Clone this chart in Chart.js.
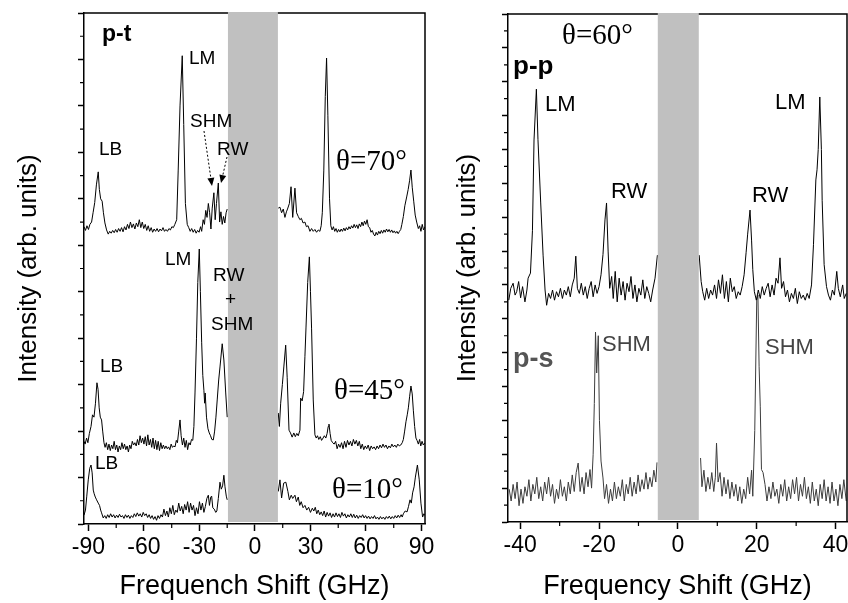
<!DOCTYPE html>
<html>
<head>
<meta charset="utf-8">
<script src="https://cdn.jsdelivr.net/npm/chart.js@4.4.1/dist/chart.umd.min.js"></script>
<style>
  html, body { margin: 0; padding: 0; background: #fff; }
  #wrap { position: relative; width: 848px; height: 603px; }
  #wrap canvas { position: absolute; top: 0; }
</style>
</head>
<body>
<div id="wrap">
  <canvas id="left" width="440" height="603" style="left:0"></canvas>
  <canvas id="right" width="408" height="603" style="left:440px"></canvas>
</div>
<script>
// ---- left panel (p-t), frequency in GHz, intensity in arb. units ----
const xTicksL = [-90, -60, -30, 0, 30, 60, 90];
const xMinorL = [-75, -45, -15, 15, 45, 75];
const yTicksL = [0, 1, 2, 3, 4, 5, 6, 7, 8, 9, 10, 11];
const bandL = [-14.6, 12.4];

const t70Left = [[-92.4,6.40],[-91.6,6.32],[-90.8,6.42],[-90,6.34],[-89.2,6.45],[-88.3,6.50],[-87.5,6.70],[-86.6,6.92],[-85.7,7.30],[-84.7,7.58],[-84.1,7.20],[-83.4,7.00],[-82.6,6.95],[-81.9,6.70],[-81.1,6.48],[-80.2,6.33],[-79.3,6.24],[-78.5,6.30],[-77.7,6.26],[-76.9,6.32],[-76.1,6.27],[-75.3,6.34],[-74.5,6.28],[-73.7,6.36],[-72.9,6.30],[-72.1,6.38],[-71.3,6.29],[-70.5,6.40],[-69.7,6.33],[-68.9,6.45],[-68.1,6.36],[-67.3,6.50],[-66.5,6.38],[-65.7,6.46],[-64.9,6.35],[-64.1,6.48],[-63.3,6.40],[-62.5,6.55],[-61.7,6.38],[-60.9,6.50],[-60.1,6.36],[-59.3,6.45],[-58.5,6.32],[-57.7,6.42],[-56.9,6.30],[-56.1,6.38],[-55.3,6.28],[-54.5,6.35],[-53.7,6.30],[-52.9,6.36],[-52.1,6.29],[-51.3,6.35],[-50.5,6.31],[-49.7,6.38],[-48.9,6.30],[-48.1,6.34],[-47.3,6.30],[-46.5,6.36],[-45.7,6.33],[-44.9,6.40],[-44.1,6.38],[-43.3,6.45],[-42.3,6.55],[-41.5,7.60],[-40.5,9.00],[-39.3,10.08],[-38.5,8.60],[-37.6,6.90],[-36.6,6.45],[-35.8,6.38],[-35,6.30],[-34.2,6.36],[-33.4,6.28],[-32.6,6.34],[-31.8,6.26],[-31,6.32],[-30.2,6.28],[-29.4,6.40],[-28.8,6.30],[-28,6.55],[-27.3,6.45],[-26.6,6.75],[-25.9,6.60],[-25.2,6.90],[-24.5,6.70],[-23.8,6.35],[-23.1,6.80],[-22.2,7.13],[-21.5,6.55],[-20.8,6.90],[-19.8,7.34],[-19.1,6.50],[-18.4,6.72],[-17.7,6.45],[-17,6.62],[-16.3,6.48],[-15.6,6.70],[-15,6.78]];
const t70Right = [[12.6,6.80],[13.5,6.82],[14.4,6.70],[15.3,6.78],[16.2,6.60],[17.0,6.72],[17.6,6.78],[18.6,6.90],[19.5,7.26],[20.4,6.60],[21.6,7.23],[22.5,6.70],[23.4,6.62],[24.3,6.55],[25.1,6.58],[26.0,6.48],[27.0,6.50],[27.8,6.40],[28.7,6.42],[29.7,6.30],[30.6,6.36],[31.5,6.30],[32.4,6.34],[33.3,6.28],[34.2,6.33],[35.1,6.30],[35.8,6.42],[36.4,6.70],[37.2,7.60],[38.0,9.20],[38.7,10.03],[39.4,8.80],[40.3,7.00],[41.0,6.42],[41.7,6.33],[42.4,6.40],[43.1,6.30],[43.8,6.36],[44.5,6.28],[45.2,6.34],[45.9,6.29],[46.6,6.35],[47.3,6.30],[48.0,6.37],[48.7,6.31],[49.4,6.38],[50.1,6.33],[50.8,6.40],[51.5,6.35],[52.2,6.42],[52.9,6.37],[53.6,6.45],[54.3,6.38],[55.0,6.44],[55.7,6.36],[56.4,6.46],[57.1,6.40],[57.8,6.50],[58.5,6.42],[59.2,6.52],[59.9,6.45],[60.6,6.55],[61.3,6.40],[62.0,6.38],[62.7,6.28],[63.4,6.32],[64.1,6.24],[64.8,6.20],[65.5,6.28],[66.2,6.22],[66.9,6.30],[67.6,6.25],[68.3,6.32],[69.0,6.26],[69.7,6.33],[70.4,6.28],[71.1,6.35],[71.8,6.29],[72.5,6.34],[73.2,6.28],[73.9,6.33],[74.6,6.27],[75.3,6.31],[76.0,6.26],[76.7,6.30],[77.4,6.25],[78.1,6.30],[78.8,6.34],[79.4,6.45],[80.2,6.62],[81.0,6.85],[82.0,7.04],[82.8,7.20],[83.6,7.40],[84.3,7.62],[85.0,7.25],[85.8,6.95],[86.6,6.65],[87.4,6.50],[88.3,6.36],[89.0,6.42],[89.7,6.30],[90.4,6.45],[91.1,6.33],[91.9,6.40]];

const t45Left = [[-92.4,1.78],[-91.8,1.72],[-91.0,1.85],[-90.3,1.75],[-89.5,1.95],[-88.6,2.10],[-87.8,2.35],[-87.0,2.30],[-86.2,2.60],[-85.4,3.04],[-84.8,2.90],[-84.2,2.50],[-83.6,2.30],[-82.9,2.24],[-82.3,2.00],[-81.6,1.75],[-81.0,1.65],[-80.3,1.75],[-79.6,1.60],[-78.9,1.72],[-78.2,1.58],[-77.5,1.70],[-76.8,1.62],[-76.1,1.78],[-75.4,1.60],[-74.7,1.70],[-74.0,1.55],[-73.3,1.68],[-72.6,1.60],[-71.9,1.75],[-71.2,1.62],[-70.5,1.72],[-69.8,1.60],[-69.1,1.68],[-68.4,1.55],[-67.7,1.70],[-67.0,1.62],[-66.3,1.78],[-65.6,1.70],[-64.9,1.75],[-64.2,1.68],[-63.5,1.82],[-62.8,1.70],[-62.1,1.90],[-61.4,1.75],[-60.7,1.85],[-60.0,1.72],[-59.3,1.88],[-58.6,1.68],[-57.9,1.92],[-57.2,1.70],[-56.5,1.82],[-55.8,1.65],[-55.1,1.85],[-54.4,1.62],[-53.7,1.80],[-53.0,1.60],[-52.3,1.78],[-51.6,1.58],[-50.9,1.75],[-50.2,1.62],[-49.5,1.70],[-48.8,1.62],[-48.1,1.68],[-47.4,1.62],[-46.7,1.66],[-46.0,1.60],[-45.3,1.72],[-44.6,1.65],[-43.9,1.68],[-43.2,1.66],[-42.5,1.80],[-41.9,1.75],[-41.2,2.00],[-40.5,2.24],[-39.9,1.90],[-39.2,1.70],[-38.5,1.85],[-37.8,1.65],[-37.1,1.80],[-36.4,1.60],[-35.7,1.75],[-35.0,1.70],[-34.3,1.82],[-33.6,1.80],[-33.0,2.10],[-32.4,2.82],[-31.6,4.00],[-30.9,5.20],[-30.1,5.92],[-29.5,5.00],[-28.8,3.90],[-28.2,3.20],[-27.6,2.88],[-27.2,2.60],[-26.9,2.82],[-26.2,2.30],[-25.4,2.05],[-24.7,1.96],[-24.0,1.90],[-23.3,1.82],[-22.5,1.81],[-21.8,2.00],[-21.1,2.30],[-20.4,2.67],[-19.6,3.10],[-18.9,3.38],[-17.7,3.88],[-16.8,3.53],[-15.8,2.82],[-15.0,2.30]];
const t45Right = [[12.6,2.39],[13.2,2.10],[13.9,2.60],[14.8,3.00],[15.6,3.38],[16.6,3.85],[17.4,3.16],[18.4,2.02],[19.2,1.96],[20.1,1.87],[21.0,1.96],[21.8,1.88],[22.6,1.95],[23.4,1.90],[24.3,2.02],[24.7,2.71],[25.5,2.65],[26.3,2.85],[27.0,3.60],[27.6,4.24],[28.5,5.20],[29.4,5.75],[30.0,5.00],[30.6,4.20],[31.5,2.67],[32.4,1.92],[33.1,1.85],[33.8,1.90],[34.5,1.82],[35.3,1.88],[36.0,1.80],[36.8,1.85],[37.5,1.90],[38.3,1.85],[39.0,1.95],[39.6,2.10],[40.0,2.15],[40.6,1.95],[41.2,1.80],[42.0,1.75],[42.8,1.72],[43.6,1.78],[44.4,1.62],[45.2,1.72],[46.0,1.65],[46.8,1.75],[47.6,1.62],[48.4,1.78],[49.2,1.65],[50.0,1.80],[50.8,1.70],[51.6,1.78],[52.4,1.68],[53.2,1.82],[54.0,1.72],[54.8,1.80],[55.6,1.68],[56.4,1.78],[57.2,1.62],[58.0,1.72],[58.8,1.60],[59.6,1.68],[60.4,1.62],[61.2,1.70],[62.0,1.58],[62.8,1.68],[63.6,1.62],[64.4,1.66],[65.2,1.60],[66.0,1.68],[66.8,1.62],[67.6,1.70],[68.4,1.64],[69.2,1.72],[70.0,1.65],[70.8,1.70],[71.6,1.62],[72.4,1.68],[73.2,1.64],[74.0,1.72],[74.8,1.66],[75.6,1.70],[76.4,1.65],[77.2,1.72],[78.0,1.68],[78.8,1.70],[79.6,1.75],[80.2,1.82],[80.9,2.00],[81.6,2.20],[82.3,2.35],[82.9,2.50],[83.6,2.75],[84.3,2.97],[85.0,2.80],[85.6,2.45],[86.3,2.10],[87.0,1.85],[87.6,1.80],[88.3,1.72],[89.0,1.82],[89.6,1.68],[90.3,1.78],[91.0,1.70],[91.9,1.75]];

const t10Left = [[-92.4,0.19],[-91.6,0.30],[-90.9,0.60],[-90.1,0.95],[-89.3,1.20],[-88.6,1.27],[-88.0,1.10],[-87.4,0.73],[-86.9,0.65],[-86.3,0.58],[-85.6,0.52],[-84.7,0.45],[-84.0,0.40],[-83.4,0.30],[-82.9,0.24],[-82.0,0.13],[-81.2,0.18],[-80.4,0.12],[-79.6,0.20],[-78.8,0.14],[-78.0,0.22],[-77.2,0.15],[-76.4,0.20],[-75.6,0.13],[-74.8,0.19],[-74.0,0.14],[-73.2,0.21],[-72.4,0.15],[-71.6,0.18],[-70.8,0.12],[-70.0,0.20],[-69.2,0.14],[-68.4,0.19],[-67.6,0.12],[-66.8,0.18],[-66.0,0.14],[-65.2,0.22],[-64.4,0.16],[-63.6,0.24],[-62.8,0.17],[-62.0,0.22],[-61.2,0.15],[-60.4,0.25],[-59.6,0.18],[-58.8,0.22],[-58.0,0.14],[-57.2,0.20],[-56.4,0.12],[-55.6,0.18],[-54.8,0.10],[-54.0,0.16],[-53.2,0.08],[-52.4,0.18],[-51.6,0.12],[-50.8,0.20],[-50.0,0.15],[-49.2,0.32],[-48.4,0.18],[-47.6,0.28],[-46.8,0.15],[-46.0,0.35],[-45.2,0.22],[-44.4,0.40],[-43.6,0.20],[-42.8,0.30],[-42.0,0.25],[-41.2,0.45],[-40.4,0.28],[-39.6,0.38],[-38.8,0.22],[-38.0,0.42],[-37.2,0.30],[-36.4,0.48],[-35.6,0.25],[-34.8,0.45],[-34.0,0.30],[-33.2,0.40],[-32.4,0.18],[-31.6,0.35],[-30.8,0.22],[-30.0,0.48],[-29.2,0.30],[-28.4,0.45],[-27.6,0.25],[-26.8,0.38],[-26.0,0.55],[-25.2,0.62],[-24.6,0.40],[-23.9,0.58],[-23.4,0.60],[-22.8,0.35],[-22.0,0.32],[-21.2,0.25],[-20.6,0.28],[-19.8,0.55],[-18.9,0.90],[-18.2,0.75],[-17.5,0.82],[-16.8,1.05],[-16.2,0.80],[-15.5,0.60],[-15.0,0.52]];
const t10Right = [[12.6,0.70],[13.5,0.95],[14.4,0.56],[15.5,0.88],[16.7,0.90],[17.8,0.70],[18.6,0.52],[19.6,0.62],[20.4,0.55],[21.6,0.62],[22.4,0.48],[23.4,0.58],[24.2,0.40],[25.0,0.48],[26.0,0.35],[27.0,0.40],[28.0,0.30],[29.0,0.36],[30.0,0.25],[31.0,0.34],[31.8,0.28],[32.6,0.36],[33.4,0.22],[34.2,0.30],[35.0,0.20],[35.8,0.26],[36.6,0.18],[37.4,0.28],[38.2,0.15],[39.0,0.25],[39.8,0.17],[40.6,0.24],[41.4,0.14],[42.2,0.22],[43.0,0.15],[43.8,0.24],[44.6,0.16],[45.4,0.22],[46.2,0.14],[47.0,0.25],[47.8,0.17],[48.6,0.22],[49.4,0.13],[50.2,0.20],[51.0,0.15],[51.8,0.22],[52.6,0.14],[53.4,0.21],[54.2,0.13],[55.0,0.19],[55.8,0.12],[56.6,0.18],[57.4,0.14],[58.2,0.20],[59.0,0.13],[59.8,0.18],[60.6,0.12],[61.4,0.17],[62.2,0.11],[63.0,0.16],[63.8,0.12],[64.6,0.18],[65.4,0.11],[66.2,0.15],[67.0,0.10],[67.8,0.16],[68.6,0.11],[69.4,0.15],[70.2,0.10],[71.0,0.16],[71.8,0.12],[72.6,0.17],[73.4,0.11],[74.2,0.16],[75.0,0.12],[75.8,0.18],[76.6,0.13],[77.4,0.19],[78.2,0.14],[79.0,0.20],[79.6,0.15],[80.2,0.22],[81.2,0.28],[82.2,0.26],[83.0,0.38],[83.8,0.52],[84.5,0.45],[85.2,0.67],[86.0,0.80],[86.7,1.01],[87.8,1.27],[88.8,0.95],[89.7,0.45],[90.6,0.15],[91.3,0.22],[91.9,0.18]];

// ---- right panel (theta = 60 deg) ----
const xTicksR = [-40, -20, 0, 20, 40];
const xMinorR = [-30, -10, 10, 30];
const yTicksR = [0, 1, 2, 3, 4, 5, 6, 7, 8, 9, 10, 11, 12, 13, 14, 15];
const bandR = [-5.1, 5.3];

const ppLeft = [[-42.9,6.55],[-42.4,6.90],[-41.8,7.05],[-41.3,6.70],[-40.9,6.80],[-40.4,7.10],[-39.9,6.62],[-39.4,6.95],[-38.8,6.50],[-38.3,6.85],[-38.0,7.20],[-37.4,7.35],[-36.9,8.60],[-36.5,11.28],[-35.9,12.78],[-35.5,11.30],[-34.8,9.42],[-34.2,7.88],[-33.7,6.85],[-33.3,6.40],[-32.8,6.75],[-32.3,6.60],[-31.8,6.85],[-31.3,6.55],[-30.8,6.80],[-30.3,6.65],[-29.8,6.90],[-29.3,6.60],[-28.8,6.85],[-28.3,6.70],[-27.8,6.95],[-27.3,6.65],[-26.8,7.00],[-26.3,7.20],[-25.9,7.85],[-25.5,6.90],[-25.0,6.75],[-24.5,7.05],[-24.0,6.70],[-23.5,6.95],[-23.0,6.60],[-22.5,6.90],[-22.0,7.10],[-21.5,6.65],[-21.0,7.00],[-20.5,6.75],[-20.0,6.95],[-19.5,7.30],[-19.0,7.90],[-18.5,8.92],[-18.1,9.42],[-17.7,8.00],[-17.3,6.90],[-16.8,7.25],[-16.4,6.60],[-15.9,7.40],[-15.4,6.50],[-14.9,7.20],[-14.4,6.70],[-13.9,7.10],[-13.4,6.55],[-12.9,7.05],[-12.4,6.80],[-11.9,7.25],[-11.4,6.60],[-10.9,7.00],[-10.4,6.50],[-9.9,6.90],[-9.4,6.70],[-8.9,7.15],[-8.4,6.60],[-7.9,6.95],[-7.4,6.75],[-6.9,6.50],[-6.4,6.85],[-5.8,7.20],[-5.2,7.88]];
const ppRight = [[5.4,7.88],[5.9,7.10],[6.3,6.80],[6.8,6.55],[7.3,6.90],[7.8,6.60],[8.3,6.85],[8.8,6.70],[9.3,7.00],[9.8,6.60],[10.3,7.15],[10.8,6.75],[11.3,7.30],[11.8,6.60],[12.3,7.10],[12.8,6.50],[13.3,7.20],[13.8,6.80],[14.3,6.95],[14.8,6.60],[15.3,6.80],[15.8,6.70],[16.3,6.95],[16.8,7.30],[17.3,7.95],[17.7,8.50],[18.3,9.21],[18.7,8.30],[19.0,7.45],[19.4,6.80],[19.9,6.55],[20.4,6.85],[20.9,6.60],[21.4,6.95],[21.9,6.70],[22.4,6.90],[22.9,7.05],[23.4,6.65],[23.9,7.00],[24.4,6.70],[24.9,7.20],[25.4,7.05],[25.9,7.80],[26.3,6.90],[26.8,7.10],[27.3,6.65],[27.8,6.85],[28.3,6.50],[28.8,6.75],[29.3,6.60],[29.8,6.90],[30.3,6.45],[30.8,6.80],[31.3,6.60],[31.8,6.70],[32.3,6.55],[32.8,6.75],[33.3,6.60],[33.9,7.00],[34.4,8.20],[35.0,10.10],[35.3,10.40],[35.6,11.00],[36.0,12.55],[36.4,11.00],[36.6,9.50],[37.1,7.60],[37.7,6.95],[38.2,6.70],[38.7,6.55],[39.2,6.85],[39.7,6.70],[40.3,7.40],[40.7,6.90],[41.2,6.65],[41.8,7.00],[42.2,6.60],[42.7,6.75]];

const psLeft = [[-42.8,0.97],[-42.3,0.62],[-41.8,1.11],[-41.3,0.69],[-40.8,1.18],[-40.3,0.48],[-39.8,0.97],[-39.3,0.55],[-38.8,1.04],[-38.3,0.76],[-37.8,1.25],[-37.3,0.62],[-36.8,1.11],[-36.3,0.83],[-35.8,1.32],[-35.3,0.69],[-34.8,1.04],[-34.3,0.62],[-33.8,1.18],[-33.3,0.83],[-32.8,1.32],[-32.3,0.76],[-31.8,1.11],[-31.3,0.55],[-30.8,0.97],[-30.3,0.69],[-29.8,1.25],[-29.3,0.76],[-28.8,1.04],[-28.3,0.62],[-27.8,1.18],[-27.3,0.83],[-26.8,1.39],[-26.3,0.90],[-25.8,1.46],[-25.3,1.74],[-24.8,0.90],[-24.3,1.32],[-23.8,0.83],[-23.3,1.46],[-22.8,1.04],[-22.3,1.55],[-21.9,1.00],[-21.5,2.00],[-21.2,3.50],[-20.9,5.61],[-20.6,4.40],[-20.2,5.50],[-19.9,3.00],[-19.5,1.80],[-19.0,1.30],[-18.6,0.69],[-18.1,1.11],[-17.6,0.55],[-17.1,0.97],[-16.6,0.62],[-16.1,1.18],[-15.6,0.69],[-15.1,1.04],[-14.6,0.76],[-14.1,1.25],[-13.6,0.62],[-13.1,1.11],[-12.6,0.83],[-12.1,1.32],[-11.6,0.76],[-11.1,1.18],[-10.6,0.83],[-10.1,1.39],[-9.6,0.90],[-9.1,1.25],[-8.6,0.97],[-8.1,1.46],[-7.6,0.97],[-7.1,1.32],[-6.6,1.04],[-6.1,1.53],[-5.6,1.18],[-5.3,1.76]];
const psRight = [[5.75,1.89],[6.1,1.04],[6.6,1.53],[7.1,0.90],[7.6,1.32],[8.1,0.97],[8.6,1.46],[9.1,0.90],[9.5,1.32],[9.8,2.33],[10.2,1.18],[10.7,1.46],[11.2,0.76],[11.7,1.32],[12.2,0.83],[12.7,1.25],[13.2,0.69],[13.7,1.18],[14.2,0.76],[14.7,1.11],[15.2,0.62],[15.7,1.04],[16.2,0.55],[16.7,0.97],[17.2,0.69],[17.7,1.32],[18.2,0.83],[18.7,1.53],[19.0,0.76],[19.5,2.70],[20.0,6.55],[20.3,6.70],[20.6,4.60],[20.9,3.40],[21.2,1.55],[21.6,1.46],[22.1,1.11],[22.6,0.62],[23.1,1.04],[23.6,0.69],[24.1,1.18],[24.6,0.76],[25.1,0.97],[25.6,0.55],[26.1,1.11],[26.6,0.76],[27.1,1.25],[27.6,0.62],[28.1,1.04],[28.6,0.69],[29.1,1.25],[29.6,0.83],[30.1,1.32],[30.6,0.62],[31.1,1.11],[31.6,0.76],[32.1,1.32],[32.6,0.69],[33.1,1.04],[33.6,0.55],[34.1,1.18],[34.6,0.62],[35.1,0.97],[35.6,0.48],[36.1,1.11],[36.6,0.69],[37.1,1.25],[37.6,0.62],[38.1,1.04],[38.6,0.55],[39.1,1.18],[39.6,0.62],[40.1,0.97],[40.6,0.48],[41.1,1.11],[41.6,0.69],[42.1,1.25],[42.7,0.62]];

const SANS = '"Liberation Sans", Arial, sans-serif';
const SERIF = '"Liberation Serif", "Times New Roman", serif';

// frame, minor ticks, grey blind band, text labels and arrows
const decor = {
  id: 'decor',
  afterDraw(chart, args, o) {
    const { ctx, chartArea: a } = chart;
    const x = chart.scales.x, y = chart.scales.y;
    ctx.save();
    ctx.strokeStyle = '#000';
    ctx.lineWidth = 1.5;
    ctx.beginPath();
    ctx.moveTo(a.left, a.top); ctx.lineTo(a.right, a.top); ctx.lineTo(a.right, a.bottom);
    ctx.stroke();

    ctx.lineWidth = 1.2;
    ctx.beginPath();
    o.xMinor.forEach(v => { const p = x.getPixelForValue(v); ctx.moveTo(p, a.bottom); ctx.lineTo(p, a.bottom + 4); });
    o.yMinor.forEach(v => { const p = y.getPixelForValue(v); ctx.moveTo(a.left - 4, p); ctx.lineTo(a.left, p); });
    ctx.stroke();

    const b0 = x.getPixelForValue(o.band[0]), b1 = x.getPixelForValue(o.band[1]);
    ctx.fillStyle = '#c0c0c0';
    ctx.fillRect(b0, a.top - 1, b1 - b0, a.bottom - a.top - 1);

    ctx.textBaseline = 'middle';
    ctx.textAlign = 'left';
    o.labels.forEach(l => {
      ctx.font = l.font;
      ctx.fillStyle = l.color || '#000';
      ctx.fillText(l.text, l.x, l.y);
    });

    (o.arrows || []).forEach(ar => {
      const [x1, y1, x2, y2] = ar;
      const ang = Math.atan2(y2 - y1, x2 - x1);
      ctx.strokeStyle = '#000';
      ctx.lineWidth = 1;
      ctx.setLineDash([2, 2]);
      ctx.beginPath(); ctx.moveTo(x1, y1); ctx.lineTo(x2 - 6 * Math.cos(ang), y2 - 6 * Math.sin(ang)); ctx.stroke();
      ctx.setLineDash([]);
      ctx.fillStyle = '#000';
      ctx.beginPath();
      ctx.moveTo(x2, y2);
      ctx.lineTo(x2 - 8 * Math.cos(ang) + 3.5 * Math.sin(ang), y2 - 8 * Math.sin(ang) - 3.5 * Math.cos(ang));
      ctx.lineTo(x2 - 8 * Math.cos(ang) - 3.5 * Math.sin(ang), y2 - 8 * Math.sin(ang) + 3.5 * Math.cos(ang));
      ctx.closePath(); ctx.fill();
    });
    ctx.restore();
  }
};

function pts(arr) { return arr.map(p => ({ x: p[0], y: p[1] })); }

function line(arr, color) {
  return { data: pts(arr), borderColor: color, borderWidth: 1, pointRadius: 0, tension: 0, fill: false };
}

function halves(ticks) {
  return ticks.slice(0, -1).map(v => v + 0.5);
}

function makeChart(id, cfg) {
  return new Chart(document.getElementById(id), {
    type: 'line',
    data: { datasets: cfg.datasets },
    plugins: [decor],
    options: {
      responsive: false,
      animation: false,
      events: [],
      layout: { padding: { left: 0, right: cfg.padRight, top: cfg.padTop, bottom: 0 } },
      plugins: {
        legend: { display: false },
        tooltip: { enabled: false },
        decor: { xMinor: cfg.xMinor, yMinor: halves(cfg.yTicks), band: cfg.band, labels: cfg.labels, arrows: cfg.arrows }
      },
      scales: {
        x: {
          type: 'linear', min: cfg.xMin, max: cfg.xMax,
          afterBuildTicks: s => { s.ticks = cfg.xTicks.map(v => ({ value: v })); },
          afterFit: s => { s.height = 603 - cfg.bottom; s.paddingLeft = 0; s.paddingRight = 0; },
          grid: { display: true, drawOnChartArea: false, drawTicks: true, tickLength: 7, tickColor: '#000', tickWidth: 1.5 },
          border: { display: true, color: '#000', width: 1.5 },
          ticks: { color: '#000', padding: 3, font: { family: SANS, size: 23 }, callback: v => String(v) },
          title: { display: true, text: cfg.xTitle, color: '#000', padding: { top: 0, bottom: 0 }, font: { family: SANS, size: 27 } }
        },
        y: {
          type: 'linear', min: 0, max: cfg.yTicks[cfg.yTicks.length - 1],
          afterBuildTicks: s => { s.ticks = cfg.yTicks.map(v => ({ value: v })); },
          afterFit: s => { s.width = cfg.left; s.paddingTop = 0; s.paddingBottom = 0; },
          grid: { display: true, drawOnChartArea: false, drawTicks: true, tickLength: 6, tickColor: '#000', tickWidth: 1.5 },
          border: { display: true, color: '#000', width: 1.5 },
          ticks: { display: false },
          title: { display: true, text: 'Intensity (arb. units)', color: '#000', padding: { top: cfg.yTitlePad, bottom: 0 }, font: { family: SANS, size: 26 } }
        }
      }
    }
  });
}

const fL = '19px ' + SANS, fR = '22px ' + SANS, fT = '29px ' + SERIF;

makeChart('left', {
  datasets: [line(t70Left, '#000'), line(t70Right, '#000'), line(t45Left, '#000'), line(t45Right, '#000'), line(t10Left, '#000'), line(t10Right, '#000')],
  xMin: -92.4, xMax: 91.9, xTicks: xTicksL, xMinor: xMinorL, yTicks: yTicksL, band: bandL,
  left: 84, padRight: 15, padTop: 13, bottom: 524, yTitlePad: 13, xTitle: 'Frequench Shift (GHz)',
  labels: [
    { text: 'p-t', x: 102, y: 35, font: 'bold 23px ' + SANS },
    { text: 'LM', x: 189, y: 59, font: fL },
    { text: 'SHM', x: 190, y: 121.5, font: fL },
    { text: 'RW', x: 217, y: 150, font: fL },
    { text: 'LB', x: 99, y: 150, font: fL },
    { text: 'θ=70°', x: 336, y: 162, font: fT },
    { text: 'LM', x: 165, y: 260, font: fL },
    { text: 'RW', x: 213, y: 275.5, font: fL },
    { text: '+', x: 225, y: 300, font: fL },
    { text: 'SHM', x: 211, y: 324.5, font: fL },
    { text: 'LB', x: 100, y: 366.5, font: fL },
    { text: 'θ=45°', x: 334, y: 391, font: fT },
    { text: 'LB', x: 95, y: 463.5, font: fL },
    { text: 'θ=10°', x: 332, y: 490, font: fT }
  ],
  arrows: [[204, 131, 212, 186], [227, 157, 221, 183]]
});

makeChart('right', {
  datasets: [line(ppLeft, '#000'), line(ppRight, '#000'), line(psLeft, '#3c3c3c'), line(psRight, '#3c3c3c')],
  xMin: -43.1, xMax: 42.9, xTicks: xTicksR, xMinor: xMinorR, yTicks: yTicksR, band: bandR,
  left: 68, padRight: 1, padTop: 14, bottom: 522, yTitlePad: 12, xTitle: 'Frequency Shift (GHz)',
  labels: [
    { text: 'θ=60°', x: 122, y: 36.5, font: fT },
    { text: 'p-p', x: 73, y: 67, font: 'bold 26px ' + SANS },
    { text: 'LM', x: 105, y: 105, font: fR },
    { text: 'RW', x: 171, y: 191.5, font: fR },
    { text: 'RW', x: 312, y: 195.5, font: fR },
    { text: 'LM', x: 335, y: 102.5, font: fR },
    { text: 'p-s', x: 73, y: 360, font: 'bold 27px ' + SANS, color: '#555' },
    { text: 'SHM', x: 162, y: 345, font: fR, color: '#444' },
    { text: 'SHM', x: 325, y: 347.5, font: fR, color: '#444' }
  ],
  arrows: []
});
</script>
</body>
</html>
